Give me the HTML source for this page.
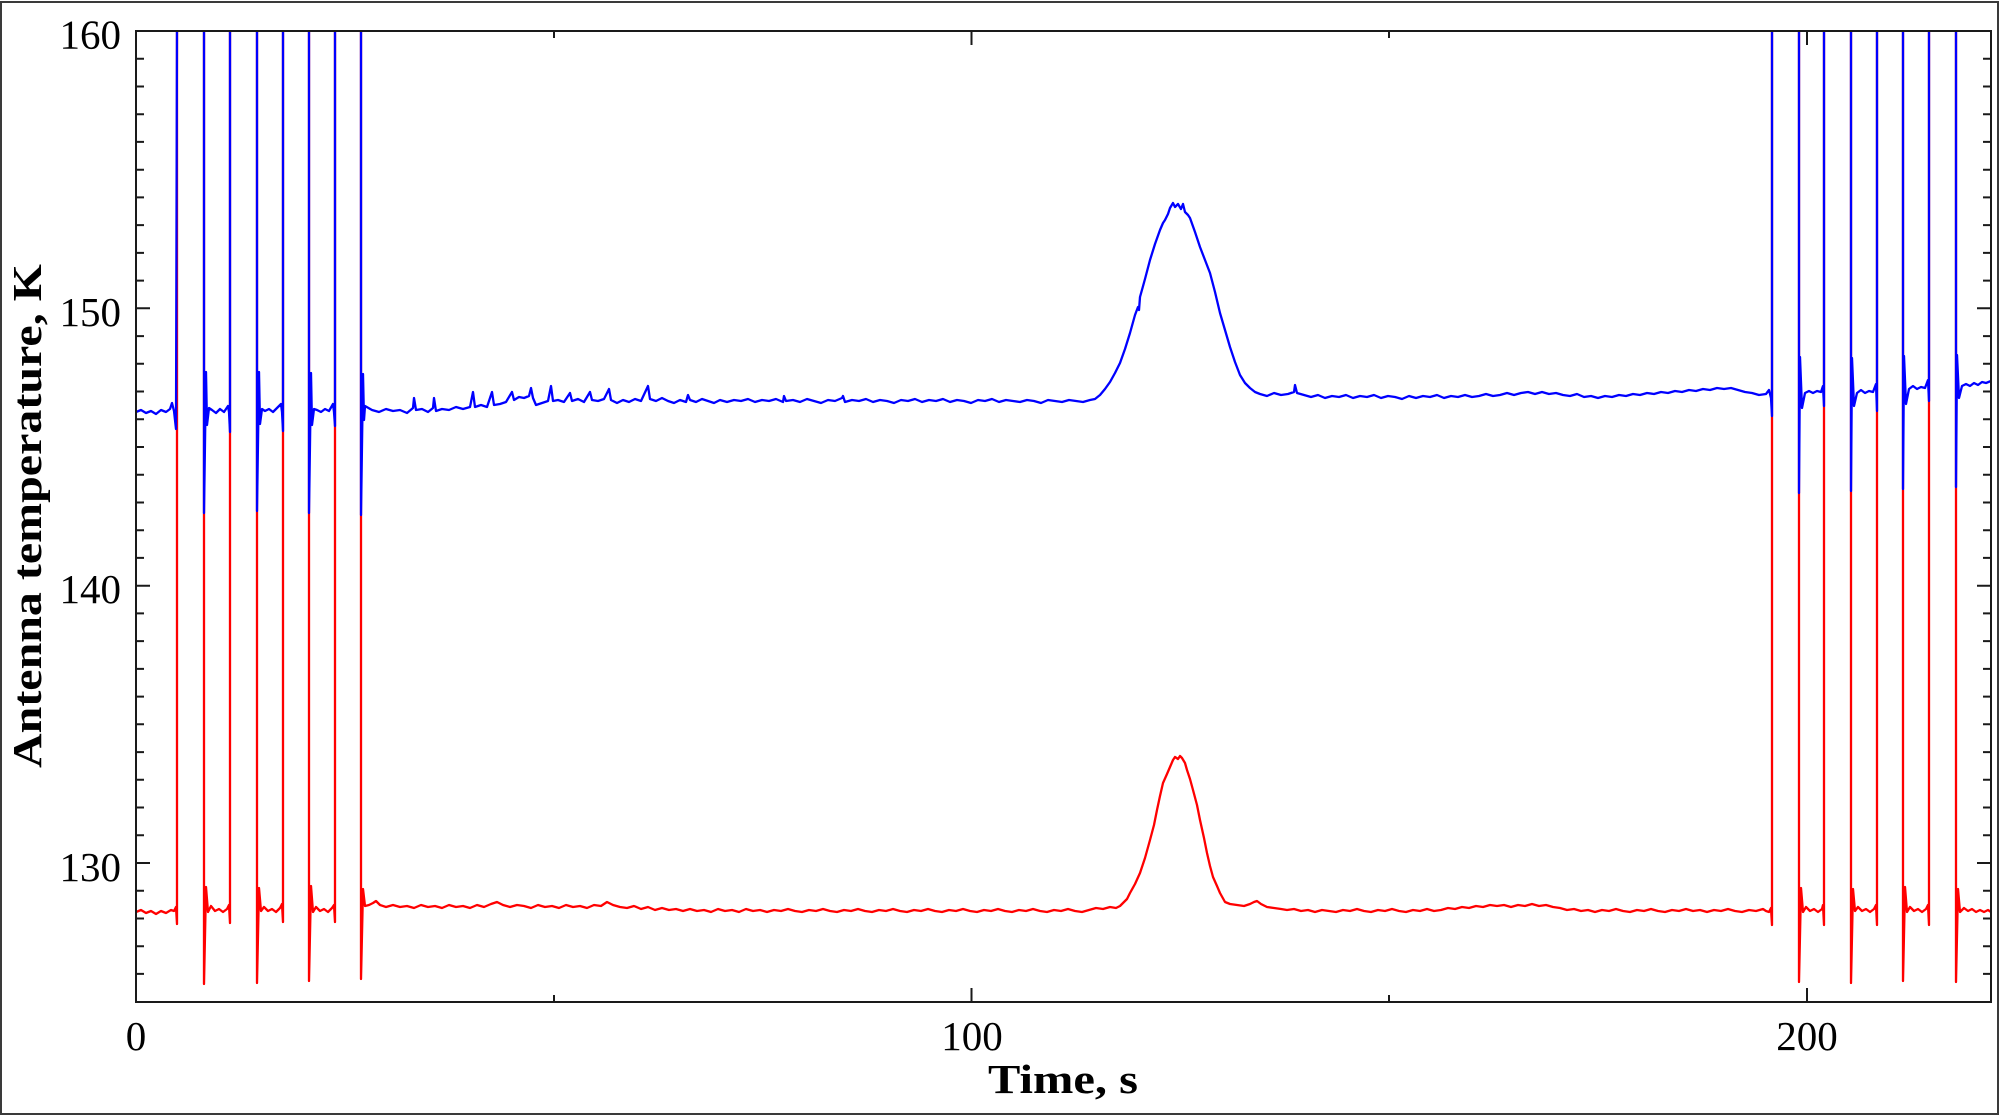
<!DOCTYPE html>
<html>
<head>
<meta charset="utf-8">
<style>
html,body{margin:0;padding:0;background:#fff;}
svg{display:block;}
text{font-family:"Liberation Serif",serif;fill:#000;}
</style>
</head>
<body>
<svg width="2000" height="1116" viewBox="0 0 2000 1116" xmlns="http://www.w3.org/2000/svg">
<defs>
<clipPath id="pc"><rect x="136" y="31" width="1855" height="971"/></clipPath>
</defs>
<rect x="0" y="0" width="2000" height="1116" fill="#fff"/>
<rect x="1" y="2" width="1997" height="1112" fill="none" stroke="#3a3a3a" stroke-width="2"/>

<g clip-path="url(#pc)" fill="none" stroke-linejoin="round" stroke-width="2.3">
<path stroke="#ff0000" d="M136,912 L141,910 L146,913 L151,911 L156,914 L161,911 L166,913 L171,910 L174,911 L176,907 L177,924 L177,20
M204,20 L204,984 L206,887 L208,912 L211,906 L215,911 L219,909 L223,912 L227,909 L229,905 L230,923 L230,20
M257,20 L257,983 L259,888 L261,911 L264,907 L268,911 L272,909 L276,912 L280,908 L282,904 L283,922 L283,20
M309,20 L309,981 L311,886 L313,912 L316,907 L320,911 L324,909 L328,912 L332,908 L334,905 L335,922 L335,20
M361,20 L361,979 L363,889 L365,906 L369,905 L373,903 L376,901 L380,905 L386,907 L393,905 L400,907 L407,906 L414,908 L421,905 L428,907 L435,906 L442,908 L449,905 L456,907 L463,906 L470,908 L477,905 L484,907 L491,904 L497,902 L503,905 L510,907 L517,905 L524,906 L531,908 L538,905 L545,907 L552,906 L559,908 L566,905 L573,907 L580,906 L587,908 L594,905 L601,906 L607,902 L613,905 L620,907 L627,908 L634,906 L641,909 L648,907 L655,910 L662,908 L669,910 L676,909 L683,911 L690,909 L697,911 L704,910 L711,912 L718,909 L725,911 L732,910 L739,912 L746,909 L753,911 L760,910 L767,912 L774,910 L781,911 L788,909 L795,911 L802,912 L809,910 L816,911 L823,909 L830,911 L837,912 L844,910 L851,911 L858,909 L865,911 L872,912 L879,910 L886,911 L893,909 L900,911 L907,912 L914,910 L921,911 L928,909 L935,911 L942,912 L949,910 L956,911 L963,909 L970,911 L977,912 L984,910 L991,911 L998,909 L1005,911 L1012,912 L1019,910 L1026,911 L1033,909 L1040,911 L1047,912 L1054,910 L1061,911 L1068,909 L1075,911 L1082,912 L1089,910 L1096,908 L1103,909 L1110,907 L1116,908 L1120,906 L1123,903 L1127,899 L1130,893 L1135,884 L1140,873 L1145,858 L1150,840 L1154,825 L1157,810 L1160,796 L1163,783 L1167,774 L1170,767 L1173,760 L1175,757 L1178,759 L1180,756 L1182,758 L1185,763 L1187,770 L1190,779 L1193,790 L1197,805 L1200,820 L1204,838 L1207,853 L1210,866 L1213,877 L1217,886 L1220,893 L1225,902 L1230,904 L1237,905 L1244,906 L1250,904 L1254,902 L1257,901 L1261,904 L1267,907 L1274,908 L1281,909 L1287,910 L1294,909 L1301,911 L1308,910 L1315,912 L1322,910 L1329,911 L1336,912 L1343,910 L1350,911 L1357,909 L1364,911 L1371,912 L1378,910 L1385,911 L1392,909 L1399,911 L1406,912 L1413,910 L1420,911 L1427,909 L1434,911 L1441,910 L1448,908 L1455,909 L1462,907 L1469,908 L1476,906 L1483,907 L1490,905 L1497,906 L1504,905 L1511,907 L1518,905 L1525,906 L1532,904 L1539,906 L1546,905 L1553,907 L1560,908 L1567,910 L1574,909 L1581,911 L1588,910 L1595,912 L1602,910 L1609,911 L1616,909 L1623,911 L1630,912 L1637,910 L1644,911 L1651,909 L1658,911 L1665,912 L1672,910 L1679,911 L1686,909 L1693,911 L1700,910 L1707,912 L1714,910 L1721,911 L1728,909 L1735,911 L1742,912 L1749,910 L1756,911 L1763,909 L1766,911 L1769,912 L1771,908 L1772,925 L1772,20
M1799,20 L1799,982 L1801,888 L1803,912 L1806,907 L1810,911 L1814,909 L1818,912 L1822,909 L1823,905 L1824,925 L1824,20
M1851,20 L1851,983 L1853,889 L1855,911 L1858,907 L1862,911 L1866,909 L1870,912 L1874,909 L1876,905 L1877,925 L1877,20
M1903,20 L1903,981 L1905,887 L1907,912 L1910,907 L1914,911 L1918,909 L1922,912 L1926,909 L1928,905 L1929,925 L1929,20
M1956,20 L1956,982 L1958,889 L1960,912 L1964,908 L1968,911 L1972,909 L1976,912 L1980,910 L1984,912 L1988,910 L1991,912"/>

<path stroke="#0000ff" d="M136,412 L141,410 L146,413 L151,411 L156,414 L161,410 L166,412 L170,409 L172,403 L174,411 L176,429 L177,20
M204,20 L204,513 L206,372 L207,425 L209,408 L212,410 L216,413 L220,409 L224,412 L228,406 L229,412 L230,432 L230,20
M257,20 L257,511 L259,372 L260,424 L262,409 L265,411 L269,409 L273,412 L277,408 L281,404 L282,412 L283,431 L283,20
M309,20 L309,513 L311,373 L312,425 L314,409 L317,410 L321,412 L325,409 L329,411 L333,404 L334,412 L335,426 L335,20
M361,20 L361,515 L363,374 L364,420 L365,406 L372,410 L379,412 L386,409 L393,411 L400,410 L407,413 L413,408 L414,398 L416,410 L422,409 L428,412 L433,408 L434,398 L436,411 L442,409 L449,410 L456,407 L463,409 L470,407 L473,392 L475,407 L481,405 L487,407 L492,392 L494,405 L500,404 L506,402 L512,392 L514,400 L519,397 L524,398 L529,396 L531,388 L533,398 L536,405 L542,403 L548,401 L551,386 L553,401 L558,400 L564,402 L570,393 L572,401 L578,399 L584,402 L590,392 L592,400 L598,401 L604,399 L609,389 L611,400 L617,403 L623,400 L629,402 L635,399 L641,401 L648,386 L650,399 L656,401 L662,398 L668,401 L674,403 L680,400 L686,402 L688,395 L690,400 L696,402 L702,399 L708,401 L714,403 L720,400 L727,402 L734,400 L741,401 L748,399 L755,402 L762,400 L769,401 L776,399 L783,402 L784,396 L786,401 L793,400 L800,402 L807,399 L814,401 L821,403 L828,400 L835,401 L842,398 L843,396 L845,402 L852,400 L859,401 L866,399 L873,402 L880,400 L887,401 L894,403 L901,400 L908,401 L915,399 L922,402 L929,400 L936,401 L943,399 L950,402 L957,400 L964,401 L971,403 L978,400 L985,401 L992,399 L999,402 L1006,400 L1013,401 L1020,402 L1027,400 L1034,401 L1041,403 L1048,400 L1055,401 L1062,402 L1069,400 L1076,401 L1083,402 L1090,400 L1095,399 L1100,395 L1105,389 L1110,382 L1115,373 L1120,363 L1125,349 L1130,333 L1135,315 L1138,307 L1139,310 L1140,297 L1145,279 L1150,260 L1155,244 L1160,230 L1163,223 L1165,220 L1168,214 L1170,208 L1173,203 L1175,207 L1178,204 L1181,209 L1183,204 L1185,212 L1188,215 L1190,218 L1195,232 L1200,247 L1205,260 L1210,273 L1215,292 L1220,313 L1225,330 L1230,347 L1235,362 L1240,375 L1245,383 L1250,388 L1255,392 L1260,394 L1267,396 L1274,393 L1281,395 L1288,394 L1294,392 L1295,385 L1297,393 L1304,395 L1311,397 L1318,395 L1325,398 L1332,396 L1339,397 L1346,395 L1353,398 L1360,396 L1367,397 L1374,395 L1381,398 L1388,396 L1395,397 L1402,399 L1409,396 L1416,398 L1423,396 L1430,397 L1437,395 L1444,398 L1451,396 L1458,397 L1465,395 L1472,397 L1479,396 L1486,394 L1493,396 L1500,395 L1507,393 L1514,395 L1521,393 L1528,392 L1535,394 L1542,392 L1549,394 L1556,393 L1563,395 L1570,396 L1577,394 L1584,397 L1591,396 L1598,398 L1605,396 L1612,397 L1619,395 L1626,396 L1633,394 L1640,395 L1647,393 L1654,394 L1661,392 L1668,393 L1675,391 L1682,392 L1689,390 L1696,391 L1703,389 L1710,390 L1717,388 L1724,389 L1731,388 L1738,390 L1745,392 L1752,393 L1759,395 L1766,394 L1769,390 L1771,398 L1772,416 L1772,20
M1799,20 L1799,493 L1800,357 L1802,408 L1805,393 L1809,391 L1813,393 L1817,391 L1821,392 L1823,386 L1824,406 L1824,20
M1851,20 L1851,491 L1852,358 L1854,406 L1857,393 L1861,390 L1865,393 L1869,391 L1873,392 L1876,384 L1877,411 L1877,20
M1903,20 L1903,489 L1904,356 L1906,404 L1909,389 L1913,386 L1917,389 L1921,387 L1925,388 L1928,380 L1929,401 L1929,20
M1956,20 L1956,487 L1957,355 L1959,398 L1962,386 L1966,384 L1970,386 L1974,383 L1978,385 L1982,382 L1986,383 L1991,381"/>
</g>

<!-- frame -->
<rect x="136" y="31" width="1855" height="971" fill="none" stroke="#1a1a1a" stroke-width="2"/>

<!-- ticks -->
<g stroke="#1a1a1a" stroke-width="2">
<!-- left/right y ticks -->
<path d="M136,31H150 M136,58.7H144 M136,86.5H144 M136,114.2H144 M136,141.9H144 M136,169.7H144 M136,197.4H144 M136,225.1H144 M136,252.9H144 M136,280.6H144 M136,308.3H150 M136,336.1H144 M136,363.8H144 M136,391.5H144 M136,419.3H144 M136,447H144 M136,474.7H144 M136,502.5H144 M136,530.2H144 M136,557.9H144 M136,585.7H150 M136,613.4H144 M136,641.1H144 M136,668.9H144 M136,696.6H144 M136,724.3H144 M136,752.1H144 M136,779.8H144 M136,807.5H144 M136,835.3H144 M136,863H150 M136,890.7H144 M136,918.5H144 M136,946.2H144 M136,973.9H144"/>
<path d="M1991,31H1977 M1991,58.7H1983 M1991,86.5H1983 M1991,114.2H1983 M1991,141.9H1983 M1991,169.7H1983 M1991,197.4H1983 M1991,225.1H1983 M1991,252.9H1983 M1991,280.6H1983 M1991,308.3H1977 M1991,336.1H1983 M1991,363.8H1983 M1991,391.5H1983 M1991,419.3H1983 M1991,447H1983 M1991,474.7H1983 M1991,502.5H1983 M1991,530.2H1983 M1991,557.9H1983 M1991,585.7H1977 M1991,613.4H1983 M1991,641.1H1983 M1991,668.9H1983 M1991,696.6H1983 M1991,724.3H1983 M1991,752.1H1983 M1991,779.8H1983 M1991,807.5H1983 M1991,835.3H1983 M1991,863H1977 M1991,890.7H1983 M1991,918.5H1983 M1991,946.2H1983 M1991,973.9H1983"/>
<!-- bottom/top x ticks -->
<path d="M554,1002V995 M971.5,1002V988 M1389,1002V995 M1807,1002V988"/>
<path d="M554,31V38 M971.5,31V45 M1389,31V38 M1807,31V45"/>
</g>

<!-- y tick labels -->
<g font-size="41" text-anchor="end">
<text x="121" y="48.5">160</text>
<text x="121" y="326">150</text>
<text x="121" y="603">140</text>
<text x="121" y="881">130</text>
</g>
<!-- x tick labels -->
<g font-size="41" text-anchor="middle">
<text x="136" y="1050">0</text>
<text x="972" y="1050">100</text>
<text x="1807" y="1050">200</text>
</g>

<text x="1063" y="1093" font-size="41" font-weight="bold" text-anchor="middle" textLength="150" lengthAdjust="spacingAndGlyphs">Time, s</text>
<text transform="translate(41,516) rotate(-90)" font-size="41" font-weight="bold" text-anchor="middle" textLength="504" lengthAdjust="spacingAndGlyphs">Antenna temperature, K</text>
</svg>
</body>
</html>
